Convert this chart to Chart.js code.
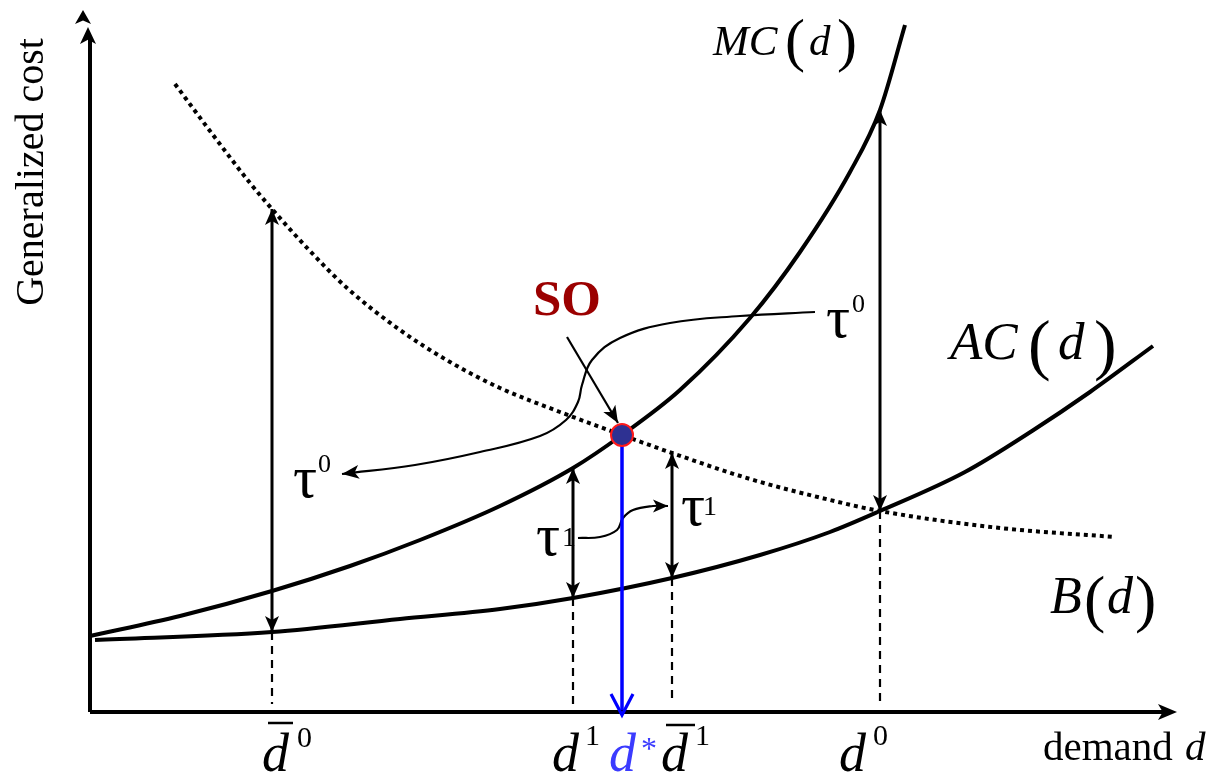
<!DOCTYPE html>
<html>
<head>
<meta charset="utf-8">
<title>Generalized cost and demand</title>
<script src="https://cdn.jsdelivr.net/npm/chart.js@4/dist/chart.umd.min.js"></script>
<style>
  body { margin: 0; background: #fff; }
  .wrap { width: 1231px; height: 773px; position: relative; }
</style>
</head>
<body>
<div class="wrap"><canvas id="c"></canvas></div>
<script>
// demand on x, generalized cost on y
var mcX = [0, 0.9, 1.82, 2.6, 3.3, 4.1, 4.83, 5.32, 5.9, 6.6, 7.1, 7.6, 7.9, 8.15];
var mcY = [0.76, 0.96, 1.21, 1.46, 1.72, 2.06, 2.44, 2.77, 3.22, 3.94, 4.60, 5.40, 6.02, 6.87];

var acX = [0.05, 1.82, 3.1, 4.1, 4.83, 5.82, 6.7, 7.4, 7.9, 8.75, 9.42, 10.0, 10.63];
var acY = [0.72, 0.80, 0.93, 1.03, 1.14, 1.34, 1.57, 1.80, 2.01, 2.40, 2.81, 3.20, 3.66];

var bX = [0.85, 1.2, 1.6, 1.82, 2.2, 2.57, 3.1, 3.6, 4.1, 4.7, 5.32, 5.82, 6.6, 7.4, 7.9, 9.1, 10.25];
var bY = [6.28, 5.81, 5.29, 5.03, 4.61, 4.24, 3.82, 3.50, 3.24, 3.00, 2.77, 2.59, 2.33, 2.12, 2.01, 1.84, 1.75];

// demand levels: d-bar0, d1, d*, d-bar1, d0
var markX = [1.82, 4.83, 5.32, 5.82, 7.9];
var arrowAt = [1.82, 4.83, 5.82, 7.9];
var arrowTop = ['B', 'MC', 'B', 'MC'];
var optimum = 5.32;

// curved pointers
var tau0X = [7.25, 6.5, 5.8, 5.3, 5.02, 4.92, 4.88, 4.76, 4.5, 3.9, 3.25, 2.52];
var tau0Y = [4.00, 3.96, 3.89, 3.74, 3.52, 3.27, 3.10, 2.92, 2.76, 2.60, 2.47, 2.38];
var tau1X = [4.88, 5.1, 5.27, 5.33, 5.43, 5.63, 5.78];
var tau1Y = [1.74, 1.75, 1.82, 1.94, 2.02, 2.06, 2.06];
var soArrowX = [4.77, 5.28];
var soArrowY = [3.75, 2.89];

var xAxisEnd = 10.87;
var yAxisTop = 6.85;

var SERIF = '"Liberation Serif", "Times New Roman", serif';
var curves = { MC: [mcX, mcY], AC: [acX, acY], B: [bX, bY] };

function valueAt(name, x) {
  var xs = curves[name][0], ys = curves[name][1];
  for (var i = 0; i < xs.length; i++) {
    if (Math.abs(xs[i] - x) < 1e-9) return ys[i];
  }
  return null;
}

function pts(xs, ys) {
  return xs.map(function (x, i) { return { x: x, y: ys[i] }; });
}

function lineSet(xs, ys, opts) {
  var d = {
    data: pts(xs, ys),
    showLine: true,
    pointRadius: 0,
    borderColor: '#000',
    borderWidth: 3,
    fill: false,
    clip: false
  };
  for (var k in opts) d[k] = opts[k];
  return d;
}

var datasets = [];
// SO point on top
datasets.push({
  data: [{ x: optimum, y: valueAt('MC', optimum) }],
  pointRadius: 11,
  pointBackgroundColor: '#2e3192',
  pointBorderColor: '#ff1a1a',
  pointBorderWidth: 2,
  showLine: false,
  clip: false
});
datasets.push(lineSet([optimum, optimum], [valueAt('MC', optimum), 0.02], { borderColor: '#0000ff', borderWidth: 3.5 }));
datasets.push(lineSet(mcX, mcY, { borderWidth: 4, cubicInterpolationMode: 'monotone' }));
datasets.push(lineSet(acX, acY, { borderWidth: 4, cubicInterpolationMode: 'monotone' }));
datasets.push(lineSet(bX, bY, { borderWidth: 4, borderDash: [4, 4], cubicInterpolationMode: 'monotone' }));

arrowAt.forEach(function (x, i) {
  var top = valueAt(arrowTop[i], x), bot = valueAt('AC', x);
  datasets.push(lineSet([x, x], [top, bot], { borderWidth: 3 }));
  datasets.push(lineSet([x, x], [bot, 0.08], { borderWidth: 2.2, borderDash: [8, 6] }));
});

datasets.push(lineSet(tau0X, tau0Y, { borderWidth: 2.2, tension: 0.4 }));
datasets.push(lineSet(tau1X, tau1Y, { borderWidth: 2.2, tension: 0.4 }));
datasets.push(lineSet(soArrowX, soArrowY, { borderWidth: 2.2 }));
// axes
datasets.push(lineSet([0, xAxisEnd - 0.1], [0, 0], { borderWidth: 4 }));
datasets.push(lineSet([0, 0], [0, yAxisTop - 0.1], { borderWidth: 4 }));

var IT = 'italic ';
var labels = [
  { x: -0.47, y: 5.40, rot: true, runs: [{ t: 'Generalized cost', f: '40px ' + SERIF, dx: 0, dy: 0 }] },
  { x: 9.53, y: -0.48, runs: [{ t: 'demand', f: '41px ' + SERIF, dx: 0, dy: 0 }, { t: 'd', f: IT + '41px ' + SERIF, dx: 142, dy: 0 }] },
  { x: 1.72, y: -0.59, runs: [{ t: 'd', f: IT + '54px ' + SERIF, dx: 0, dy: 0 }, { bar: 25, dx: 6, dy: -48 }, { t: '0', f: '30px ' + SERIF, dx: 35, dy: -24 }] },
  { x: 4.62, y: -0.59, runs: [{ t: 'd', f: IT + '54px ' + SERIF, dx: 0, dy: 0 }, { t: '1', f: '30px ' + SERIF, dx: 33, dy: -26 }] },
  { x: 5.19, y: -0.59, color: '#3b3bff', runs: [{ t: 'd', f: IT + '54px ' + SERIF, dx: 0, dy: 0 }, { t: '*', f: '32px ' + SERIF, dx: 32, dy: -12 }] },
  { x: 5.71, y: -0.59, runs: [{ t: 'd', f: IT + '54px ' + SERIF, dx: 0, dy: 0 }, { bar: 29, dx: 5, dy: -46 }, { t: '1', f: '30px ' + SERIF, dx: 34, dy: -26 }] },
  { x: 7.49, y: -0.59, runs: [{ t: 'd', f: IT + '54px ' + SERIF, dx: 0, dy: 0 }, { t: '0', f: '30px ' + SERIF, dx: 34, dy: -26 }] },
  { x: 6.23, y: 6.57, runs: [{ t: 'MC', f: IT + '43px ' + SERIF, dx: 0, dy: 0 }, { t: '(', f: '60px ' + SERIF, dx: 72, dy: 5 }, { t: 'd', f: IT + '43px ' + SERIF, dx: 96, dy: 0 }, { t: ')', f: '60px ' + SERIF, dx: 124, dy: 5 }] },
  { x: 8.60, y: 3.53, runs: [{ t: 'AC', f: IT + '53px ' + SERIF, dx: 0, dy: 0 }, { t: '(', f: '68px ' + SERIF, dx: 78, dy: 8 }, { t: 'd', f: IT + '53px ' + SERIF, dx: 108, dy: 0 }, { t: ')', f: '68px ' + SERIF, dx: 144, dy: 8 }] },
  { x: 9.60, y: 0.99, runs: [{ t: 'B', f: IT + '52px ' + SERIF, dx: 0, dy: 0 }, { t: '(', f: '64px ' + SERIF, dx: 34, dy: 7 }, { t: 'd', f: IT + '52px ' + SERIF, dx: 57, dy: 0 }, { t: ')', f: '64px ' + SERIF, dx: 85, dy: 7 }] },
  { x: 4.43, y: 3.97, color: '#9b0000', runs: [{ t: 'SO', f: 'bold 51px ' + SERIF, dx: 0, dy: 0 }] },
  { x: 7.36, y: 3.75, runs: [{ t: '\u03C4', f: '60px ' + SERIF, dx: 0, dy: 0 }, { t: '0', f: '26px ' + SERIF, dx: 26, dy: -25 }] },
  { x: 2.03, y: 2.15, runs: [{ t: '\u03C4', f: '60px ' + SERIF, dx: 0, dy: 0 }, { t: '0', f: '26px ' + SERIF, dx: 25, dy: -25 }] },
  { x: 4.46, y: 1.57, runs: [{ t: '\u03C4', f: '60px ' + SERIF, dx: 0, dy: 0 }, { t: '1', f: '28px ' + SERIF, dx: 26, dy: -9 }] },
  { x: 5.91, y: 1.87, runs: [{ t: '\u03C4', f: '60px ' + SERIF, dx: 0, dy: 0 }, { t: '1', f: '28px ' + SERIF, dx: 22, dy: -10 }] }
];

function head(ctx, tx, ty, fx, fy, len, half, open, color) {
  var a = Math.atan2(ty - fy, tx - fx);
  var bx = tx - len * Math.cos(a), by = ty - len * Math.sin(a);
  var px = -Math.sin(a) * half, py = Math.cos(a) * half;
  ctx.save();
  ctx.beginPath();
  ctx.moveTo(bx + px, by + py);
  ctx.lineTo(tx, ty);
  ctx.lineTo(bx - px, by - py);
  if (open) {
    ctx.strokeStyle = color; ctx.lineWidth = 3.2; ctx.lineCap = 'butt'; ctx.lineJoin = 'miter';
    ctx.stroke();
  } else {
    ctx.lineTo(bx + 0.25 * len * Math.cos(a), by + 0.25 * len * Math.sin(a));
    ctx.closePath();
    ctx.fillStyle = color; ctx.fill();
  }
  ctx.restore();
}

var annot = {
  id: 'annot',
  afterDatasetsDraw: function (chart) {
    var ctx = chart.ctx, sx = chart.scales.x, sy = chart.scales.y;
    function X(v) { return sx.getPixelForValue(v); }
    function Y(v) { return sy.getPixelForValue(v); }

    // axis heads
    head(ctx, X(xAxisEnd), Y(0), X(0), Y(0), 19, 8, false, '#000');
    head(ctx, X(0) - 2, Y(yAxisTop), X(0) - 2, Y(0), 17, 8, false, '#000');
    head(ctx, X(0) - 7, Y(yAxisTop) - 17, X(0) - 7, Y(0), 14, 8, false, '#000');

    // gap arrows
    arrowAt.forEach(function (x, i) {
      var top = valueAt(arrowTop[i], x), bot = valueAt('AC', x);
      head(ctx, X(x), Y(top), X(x), Y(bot), 16, 7, false, '#000');
      head(ctx, X(x), Y(bot), X(x), Y(top), 16, 7, false, '#000');
    });

    // blue arrow to d*
    head(ctx, X(optimum), Y(0) + 3, X(optimum), Y(1), 21, 11, true, '#0000ff');

    // pointer heads
    var n = tau0X.length;
    head(ctx, X(tau0X[n - 1]), Y(tau0Y[n - 1]), X(tau0X[n - 2]), Y(tau0Y[n - 2]), 17, 7, false, '#000');
    n = tau1X.length;
    head(ctx, X(tau1X[n - 1]), Y(tau1Y[n - 1]), X(tau1X[n - 2]), Y(tau1Y[n - 2]), 15, 6.5, false, '#000');
    head(ctx, X(soArrowX[1]), Y(soArrowY[1]), X(soArrowX[0]), Y(soArrowY[0]), 17, 7, false, '#000');

    // text
    labels.forEach(function (lab) {
      ctx.save();
      ctx.translate(X(lab.x), Y(lab.y));
      if (lab.rot) ctx.rotate(-Math.PI / 2);
      ctx.fillStyle = lab.color || '#000';
      ctx.strokeStyle = lab.color || '#000';
      ctx.textBaseline = 'alphabetic';
      ctx.textAlign = lab.rot ? 'center' : 'left';
      lab.runs.forEach(function (r) {
        if (r.bar) {
          ctx.lineWidth = 2.5;
          ctx.beginPath();
          ctx.moveTo(r.dx, r.dy);
          ctx.lineTo(r.dx + r.bar, r.dy);
          ctx.stroke();
        } else {
          ctx.font = r.f;
          ctx.fillText(r.t, r.dx, r.dy);
        }
      });
      ctx.restore();
    });
  }
};

new Chart(document.getElementById('c'), {
  type: 'scatter',
  data: { datasets: datasets },
  options: {
    responsive: true,
    maintainAspectRatio: false,
    animation: false,
    events: [],
    layout: { padding: 0, autoPadding: false },
    plugins: { legend: { display: false }, tooltip: { enabled: false } },
    scales: {
      x: { type: 'linear', display: false, min: -0.90, max: 11.41 },
      y: { type: 'linear', display: false, min: -0.61, max: 7.12 }
    }
  },
  plugins: [annot]
});
</script>
</body>
</html>
